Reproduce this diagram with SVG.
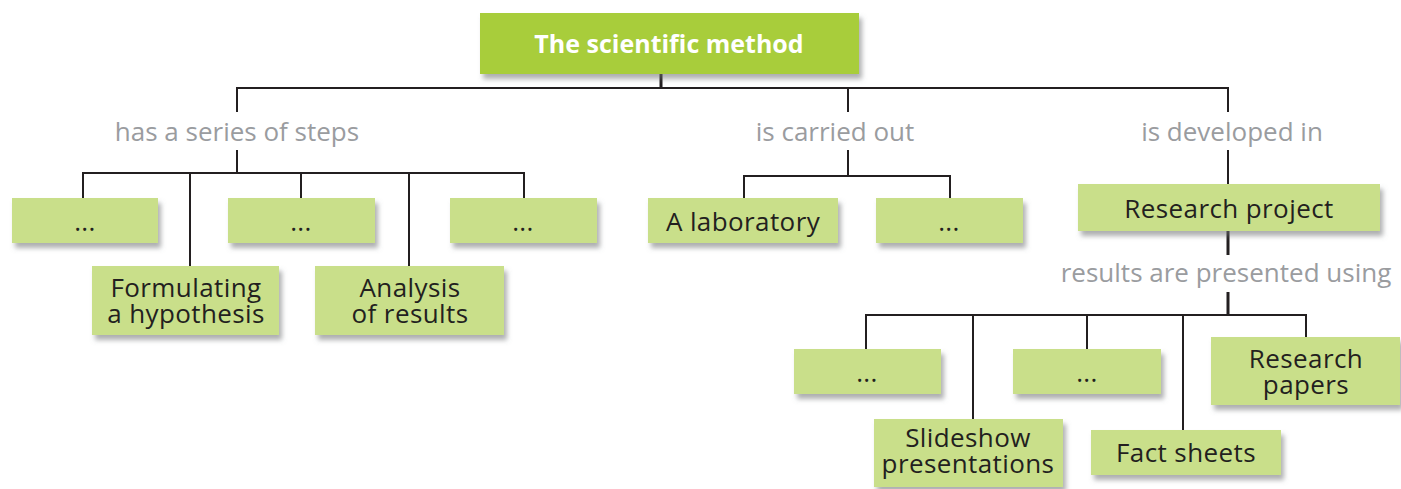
<svg xmlns="http://www.w3.org/2000/svg" width="1401" height="489" viewBox="0 0 1401 489">
<defs>
<filter id="sh" x="-10%" y="-20%" width="130%" height="160%">
<feDropShadow dx="3" dy="5" stdDeviation="2.5" flood-color="#6d6e71" flood-opacity="0.55"/>
</filter>
<style>
.box{fill:#c9df8a;filter:url(#sh)}
.top{fill:#a8cd3a;filter:url(#sh)}
.t{font-family:"Open Sans","Liberation Sans",sans-serif;font-size:26px;letter-spacing:0.4px;fill:#231f20;text-anchor:middle}
.tt{font-family:"Open Sans","Liberation Sans",sans-serif;font-size:25px;font-weight:bold;fill:#ffffff;text-anchor:middle}
.lab{font-family:"Open Sans","Liberation Sans",sans-serif;font-size:26px;fill:#9a9c9f;text-anchor:middle}
.ln{fill:none;stroke:#231f20;stroke-width:2}
.stem{fill:none;stroke:#231f20;stroke-width:3}
</style>
</defs>
<rect width="1401" height="489" fill="#ffffff"/>
<g id="connectors">
<path class="stem" d="M661 74V88"/>
<path class="ln" d="M237 112V88H1228V112M848 88V112"/>
<path class="ln" d="M237 150V173M83 198V173H524V198M190 173V266M301 173V198M409 173V266"/>
<path class="ln" d="M848 150V176M744 198V176H950V198"/>
<path class="ln" d="M1228 150V184"/>
<path class="stem" d="M1228 231V255M1228 292V315"/>
<path class="ln" d="M866 349V315H1306V337M973 315V419M1087 315V349M1183 315V430"/>
</g>
<g id="n-top"><rect class="top" x="480" y="13" width="379" height="61"/><text class="tt" x="669" y="53">The scientific method</text></g>
<g id="l-steps"><text class="lab" x="237" y="141">has a series of steps</text></g>
<g id="l-carried"><text class="lab" x="835" y="141">is carried out</text></g>
<g id="l-developed"><text class="lab" x="1232" y="141">is developed in</text></g>
<g id="n-s1"><rect class="box" x="12" y="198" width="146" height="45"/><text class="t" x="85" y="231">...</text></g>
<g id="n-s2"><rect class="box" x="228" y="198" width="147" height="45"/><text class="t" x="301" y="231">...</text></g>
<g id="n-s3"><rect class="box" x="450" y="198" width="147" height="45"/><text class="t" x="523" y="231">...</text></g>
<g id="n-formulating"><rect class="box" x="92" y="266" width="187" height="69"/><text class="t"><tspan x="186" y="297">Formulating</tspan><tspan x="186" y="323">a hypothesis</tspan></text></g>
<g id="n-analysis"><rect class="box" x="315" y="266" width="189" height="69"/><text class="t"><tspan x="410" y="297">Analysis</tspan><tspan x="410" y="323">of results</tspan></text></g>
<g id="n-lab"><rect class="box" x="648" y="198" width="190" height="45"/><text class="t" x="743" y="231">A laboratory</text></g>
<g id="n-c2"><rect class="box" x="876" y="198" width="147" height="45"/><text class="t" x="949" y="231">...</text></g>
<g id="n-research"><rect class="box" x="1078" y="184" width="302" height="47"/><text class="t" x="1229" y="218">Research project</text></g>
<g id="l-results"><text class="lab" x="1226" y="282">results are presented using</text></g>
<g id="n-p1"><rect class="box" x="794" y="349" width="147" height="45"/><text class="t" x="867" y="382">...</text></g>
<g id="n-p2"><rect class="box" x="1013" y="349" width="148" height="45"/><text class="t" x="1087" y="382">...</text></g>
<g id="n-papers"><rect class="box" x="1211" y="337" width="189" height="68"/><text class="t"><tspan x="1306" y="368">Research</tspan><tspan x="1306" y="394">papers</tspan></text></g>
<g id="n-slides"><rect class="box" x="874" y="419" width="189" height="68"/><text class="t"><tspan x="968" y="447">Slideshow</tspan><tspan x="968" y="473">presentations</tspan></text></g>
<g id="n-facts"><rect class="box" x="1091" y="430" width="190" height="45"/><text class="t" x="1186" y="462">Fact sheets</text></g>
</svg>
